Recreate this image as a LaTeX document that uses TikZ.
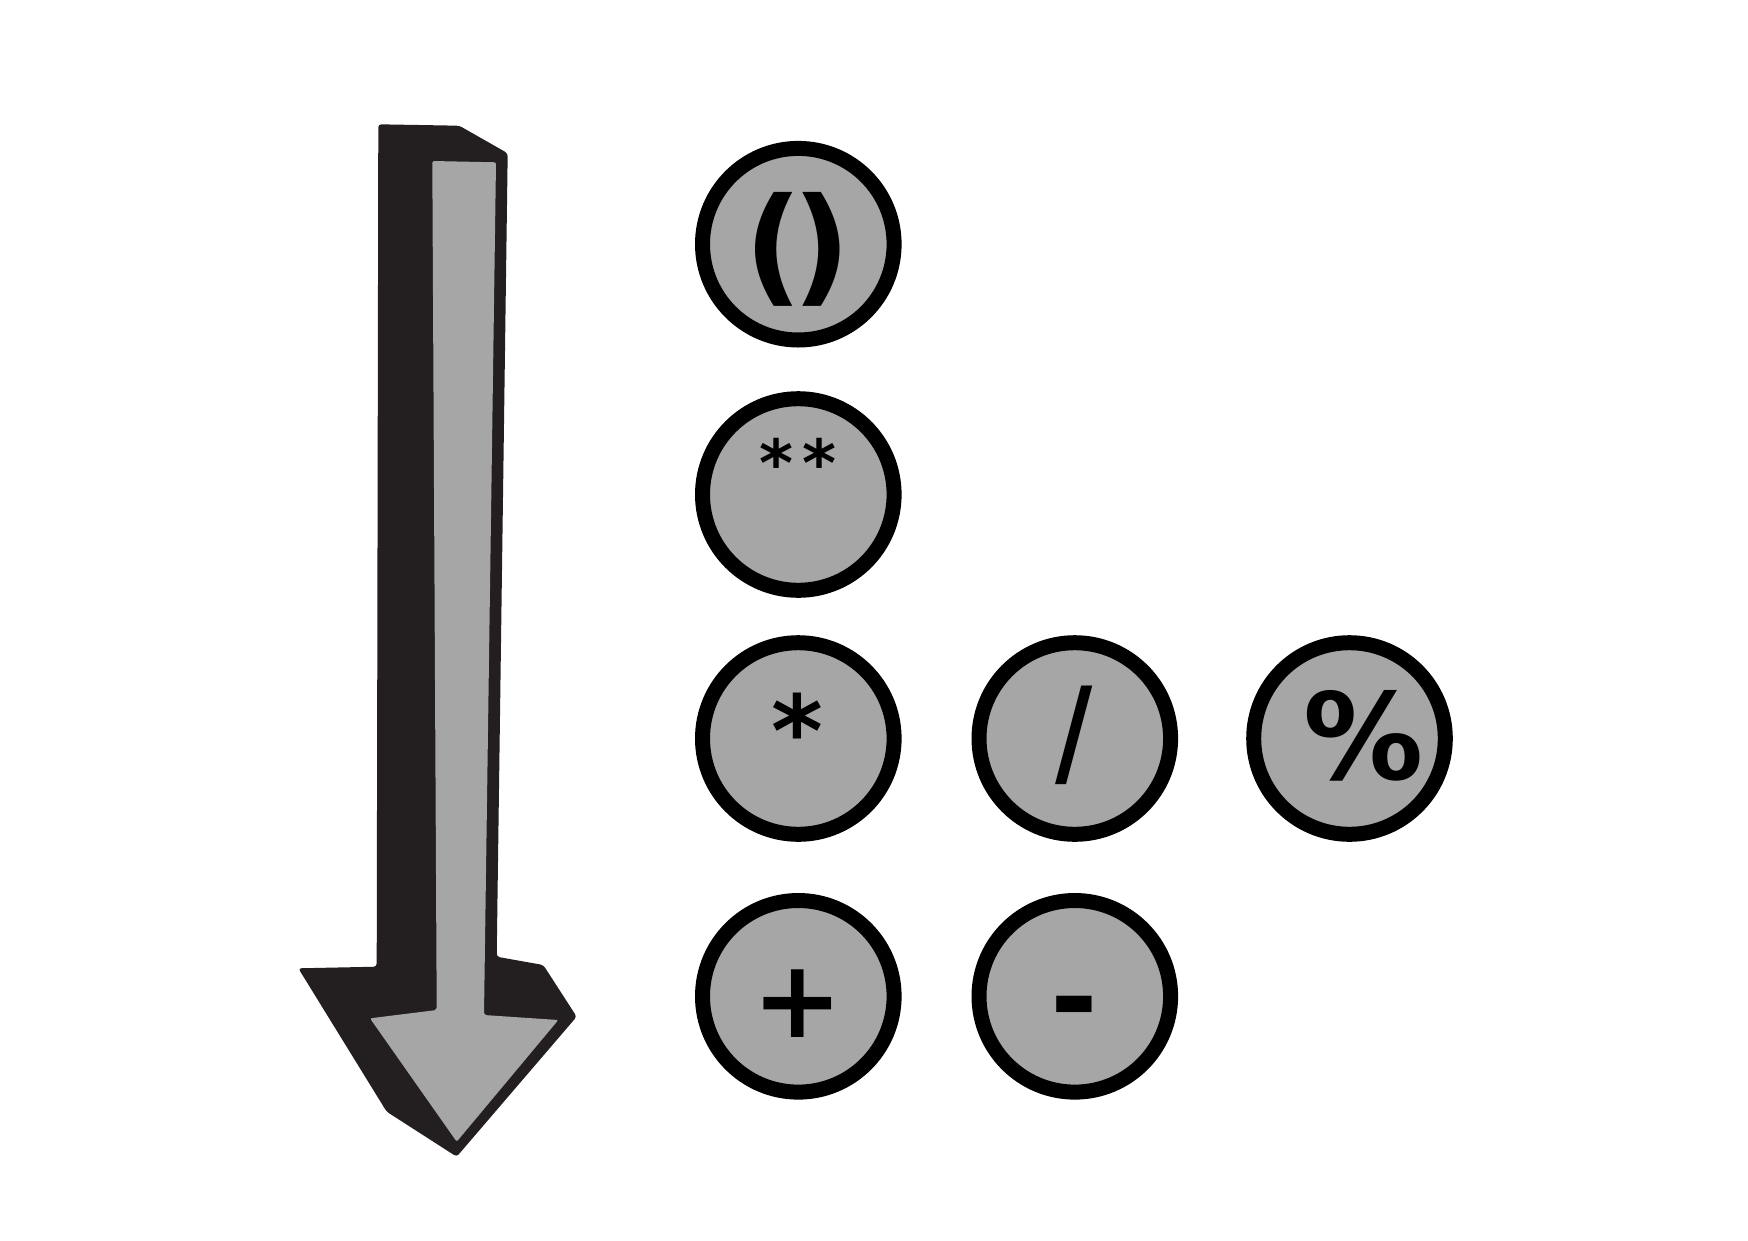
\documentclass[tikz,border=0pt]{standalone}
\usepackage{fontspec}
\setmainfont{DejaVu Sans}
\definecolor{shadowc}{HTML}{231F20}
\definecolor{fillgray}{HTML}{A6A6A6}
\begin{document}
\begin{tikzpicture}[x=1pt,y=-1pt]
\tikzset{
 opcircle/.style={circle, draw=black, line width=15pt, fill=fillgray, minimum size=191.6pt, inner sep=0pt},
 sym/.style={inner sep=0pt, font=\bfseries\fontsize{#1}{#1}\selectfont},
 sym/.default=120
}
\useasboundingbox (0,0) rectangle (1748,1240);
\fill[white] (0,0) rectangle (1748,1240);
% arrow
\fill[shadowc, rounded corners=3pt] (378.3,124.3) -- (459.3,125.7) -- (507.7,153.3) -- (496.7,956.7) -- (543.3,965) -- (576.7,1016.7) -- (456.7,1156.7) -- (386.7,1111.7) -- (298.3,968.3) -- (376.7,966.7) -- cycle;
\fill[fillgray, rounded corners=2pt] (432.3,161) -- (496,162.3) -- (484,1015) -- (558.3,1020) -- (456.7,1141.7) -- (370,1018.3) -- (436.7,1010) -- cycle;
% circles
\node[opcircle] (c1) at (798.3,244.2) {};
\node[opcircle] (c2) at (798.3,494.5) {};
\node[opcircle] (c3) at (798.3,738.5) {};
\node[opcircle] (c4) at (1074.8,738.5) {};
\node[opcircle] (c5) at (1349.5,738.5) {};
\node[opcircle] (c6) at (798.3,996.3) {};
\node[opcircle] (c7) at (1074.8,996.3) {};
% symbols
\node[sym=128] (t1) at (797.5,249) {(\kern-11pt)};
\node[sym=65, anchor=base] (t2) at (798,486.7) {*\kern9pt*};
\node[sym=99, anchor=base] (t3) at (797.7,766.4) {*};
\node[sym, xscale=0.85] (t4) at (1074.5,735.3) {/};
\node[sym] (t5) at (1363.3,735.8) {\%};
\node[sym=108] (t6) at (797.8,1003.7) {+};
\node[sym=115, anchor=base] (t7) at (1074.5,1037.9) {-};
\end{tikzpicture}
\end{document}
